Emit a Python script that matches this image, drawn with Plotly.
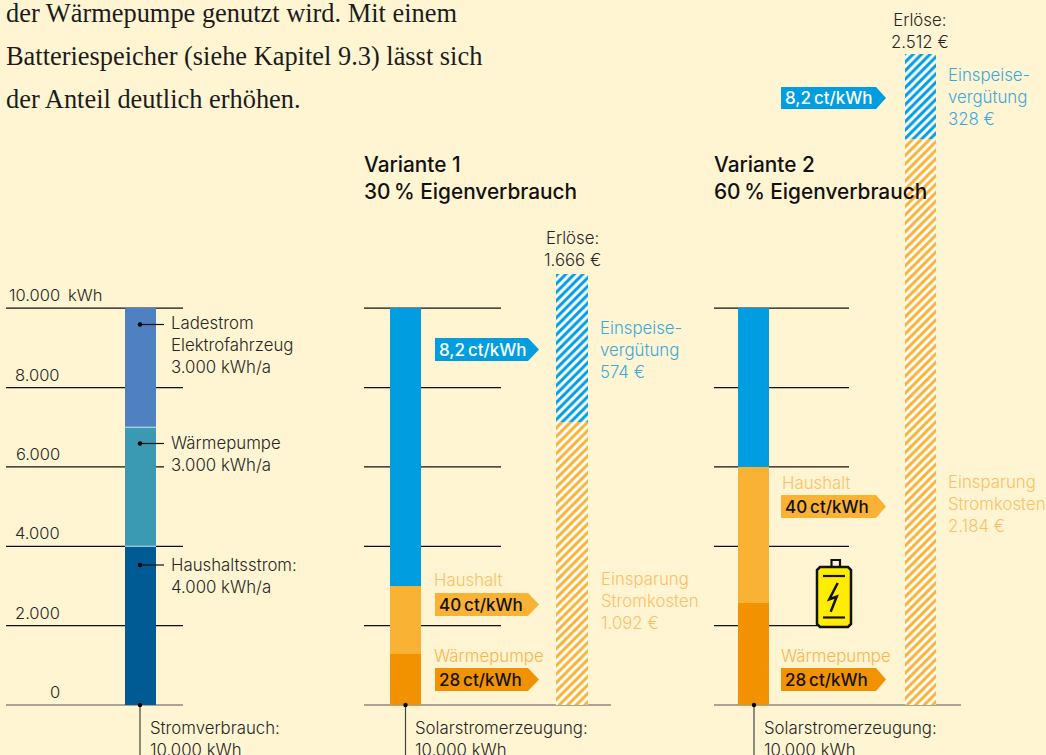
import plotly.graph_objects as go

# ---------- data ----------
tick_values = [0, 2000, 4000, 6000, 8000, 10000]
tick_labels = ["0", "2.000", "4.000", "6.000", "8.000", "10.000"]

consumption_names = ["Haushaltsstrom", "Wärmepumpe", "Ladestrom Elektrofahrzeug"]
consumption_kwh = [4000, 3000, 3000]

v1_names = ["Wärmepumpe", "Haushalt", "Einspeisung"]
v1_kwh = [1290, 1710, 7000]
v2_names = ["Wärmepumpe", "Haushalt", "Einspeisung"]
v2_kwh = [2570, 3430, 4000]

revenue_names = ["Einsparung Stromkosten", "Einspeisevergütung"]
v1_revenue = [1092, 574]
v2_revenue = [2184, 328]

# ---------- layout constants ----------
W, H = 1046, 755
ZERO_PX = 705.0
PX_PER_KWH = 0.03968
PX_PER_EUR = 0.2590
BG = "#FFF5D2"
INK = "#262626"
LINE = "#111111"
BLUE = "#009EE0"
ORANGE_L = "#F9B233"
ORANGE_D = "#F39200"
TXT_BLUE = "#3BA8DE"
TXT_ORANGE = "#FBC066"
TXT_ORANGE2 = "#F9B44A"
SANS = "Inter"
SERIF = "Liberation Serif"
THIN = "\u2009"
BODY = 16.8


def py(p):
    return 1 - p / H


fig = go.Figure()


def stack(name_list, values, xc, width, colors):
    base = 0
    for n, v, c in zip(name_list, values, colors):
        fig.add_trace(go.Bar(x=[xc], y=[v], base=[base], width=[width], name=n,
                             marker=dict(color=c, line=dict(width=0)), yaxis="y"))
        base += v


def hatch(values, xc, width):
    base = 0
    for n, v, c in zip(revenue_names, values, [ORANGE_L, BLUE]):
        fig.add_trace(go.Bar(x=[xc], y=[v], base=[base], width=[width], name=n, yaxis="y2",
                             marker=dict(color="#FFFFFF", line=dict(width=0),
                                         pattern=dict(shape="/", size=6, solidity=0.5,
                                                      fgcolor=c, bgcolor="#FFFFFF",
                                                      fillmode="replace"))))
        base += v


stack(consumption_names, consumption_kwh, 140.5, 31, ["#005B94", "#3A9AB4", "#4F81C2"])
stack(v1_names, v1_kwh, 405.5, 31, [ORANGE_D, ORANGE_L, BLUE])
stack(v2_names, v2_kwh, 753.5, 31, [ORANGE_D, ORANGE_L, BLUE])
hatch(v1_revenue, 572, 32)
hatch(v2_revenue, 920.5, 31)

shapes = []
annotations = []

# gridlines (drawn beneath the bars, y from the kWh scale)
for v in tick_values:
    col = "#555555" if v == 0 else LINE
    x1a = 164 if v == 6000 else 183
    x1b = 611 if v == 0 else 501
    x1c = 961 if v == 0 else (820 if v == 2000 else 849)
    for x0, x1 in [(6, x1a), (364, x1b), (714, x1c)]:
        shapes.append(dict(type="line", layer="below", xref="x", yref="y", x0=x0, x1=x1, y0=v, y1=v,
                           line=dict(color=col, width=1.2)))

# thin light seams between the stacked consumption segments
seam = 0
for v in consumption_kwh[:-1]:
    seam += v
    shapes.append(dict(type="line", layer="above", xref="x", yref="y", x0=125, x1=156, y0=seam, y1=seam,
                       line=dict(color="#CFE4EA", width=1)))

# tick labels
for v, t in zip(tick_values, tick_labels):
    annotations.append(dict(x=62, y=v, xref="x", yref="y", text=t, xanchor="right", yanchor="bottom",
                            yshift=1, showarrow=False, font=dict(family=SANS, size=16.5, color=INK, weight=300)))
annotations.append(dict(x=66, y=10000, xref="x", yref="y", text="kWh", xanchor="left", yanchor="bottom",
                        yshift=1, showarrow=False, font=dict(family=SANS, size=16.5, color=INK, weight=300)))


def label(x, y, text, color=INK, size=BODY, anchor="left", weight=300, family=SANS):
    annotations.append(dict(x=x - 2 if anchor == "left" else x, y=py(y), xref="x", yref="paper", text=text,
                            xanchor=anchor, yanchor="middle", align=anchor, showarrow=False,
                            font=dict(family=family, size=size, color=color, weight=weight)))


label(171, 345.5, "Ladestrom<br>Elektrofahrzeug<br>3.000 kWh/a")
label(171, 453.5, "Wärmepumpe<br>3.000 kWh/a")
label(171, 575.5, "Haushaltsstrom:<br>4.000 kWh/a")
label(150, 738.5, "Stromverbrauch:<br>10.000 kWh")
label(415, 738.5, "Solarstromerzeugung:<br>10.000 kWh")
label(764, 738.5, "Solarstromerzeugung:<br>10.000 kWh")

label(364, 178, f"Variante 1<br>30{THIN}% Eigenverbrauch", color="#111111", size=20.8, weight=500)
label(714, 178, f"Variante 2<br>60{THIN}% Eigenverbrauch", color="#111111", size=20.8, weight=500)

label(572.5, 248.5, "Erlöse:<br>1.666 €", anchor="center")
label(920, 31, "Erlöse:<br>2.512 €", anchor="center")

label(600, 349.5, "Einspeise-<br>vergütung<br>574 €", color=TXT_BLUE)
label(948, 96.5, "Einspeise-<br>vergütung<br>328 €", color=TXT_BLUE)
label(601, 601, "Einsparung<br>Stromkosten<br>1.092 €", color=TXT_ORANGE)
label(948, 503.5, "Einsparung<br>Stromkosten<br>2.184 €", color=TXT_ORANGE)

label(434, 580, "Haushalt", color=TXT_ORANGE)
label(434, 656, "Wärmepumpe", color=TXT_ORANGE2)
label(782, 483, "Haushalt", color=TXT_ORANGE)
label(781, 656, "Wärmepumpe", color=TXT_ORANGE2)

for i, line in enumerate(["der Wärmepumpe genutzt wird. Mit einem",
                          "Batteriespeicher (siehe Kapitel 9.3) lässt sich",
                          "der Anteil deutlich erhöhen."]):
    label(6, 13 + 43 * i, line, color="#1c1c1c", size=26.4, weight=400, family=SERIF)


# rate tags
def tag(x0, x1, tip, y0, y1, color, text, tcolor):
    ym = (y0 + y1) / 2
    path = f"M{x0},{py(y0)} L{x1},{py(y0)} L{tip},{py(ym)} L{x1},{py(y1)} L{x0},{py(y1)} Z"
    shapes.append(dict(type="path", xref="x", yref="paper", path=path, fillcolor=color, line=dict(width=0), layer="above"))
    label(x0 + 4, ym, text, color=tcolor, size=17, weight=500)


tag(435, 528, 539, 338, 361, BLUE, f"8,2{THIN}ct/kWh", "#FFFFFF")
tag(435, 528, 539, 593, 616, ORANGE_L, f"40{THIN}ct/kWh", "#111111")
tag(435, 528, 539, 668, 691, ORANGE_D, f"28{THIN}ct/kWh", "#111111")
tag(781, 876, 886, 87, 109, BLUE, f"8,2{THIN}ct/kWh", "#FFFFFF")
tag(781, 876, 886, 495, 518, ORANGE_L, f"40{THIN}ct/kWh", "#111111")
tag(781, 876, 886, 668, 691, ORANGE_D, f"28{THIN}ct/kWh", "#111111")


# pointer lines and dots
def seg(x0, y0, x1, y1, color=LINE, width=1.2):
    shapes.append(dict(type="line", xref="x", yref="paper", x0=x0, x1=x1, y0=py(y0), y1=py(y1),
                       line=dict(color=color, width=width), layer="above"))


def dot(x, y, r=2.2):
    shapes.append(dict(type="circle", xref="x", yref="paper", x0=x - r, x1=x + r, y0=py(y - r), y1=py(y + r),
                       fillcolor="#000000", line=dict(width=0), layer="above"))


for y in [324.5, 443.5, 565]:
    seg(140, y, 164, y)
    dot(140, y)
for x in [140, 405.5, 754]:
    seg(x, 705, x, 755, color="#444444")
    dot(x, 705)


# battery icon
def path(points, close=False):
    s = "M" + " L".join(f"{x},{py(y)}" for x, y in points)
    return s + (" Z" if close else "")


def stroke(points, color="#111111", width=2.2, fill=None, close=False):
    d = dict(type="path", xref="x", yref="paper", path=path(points, close), line=dict(color=color, width=width), layer="above")
    if fill:
        d["fillcolor"] = fill
    shapes.append(d)


stroke([(820, 567), (848, 567), (851, 570), (851, 624), (848, 627), (820, 627), (817, 624), (817, 570)],
       fill="#FFED00", close=True, width=2.5)
stroke([(831.5, 566), (831.5, 560), (840, 560), (840, 566)])
stroke([(823, 576), (845, 576)])
stroke([(823, 617.5), (845, 617.5)])
stroke([(837.7, 583), (829.3, 599.3), (836.7, 596.7), (830.7, 611.7)], width=2.5)

fig.update_layout(
    width=W, height=H, margin=dict(l=0, r=0, t=0, b=0), autosize=False,
    paper_bgcolor=BG, plot_bgcolor=BG, showlegend=False, barmode="overlay", bargap=0,
    xaxis=dict(range=[0, W], visible=False, fixedrange=True),
    yaxis=dict(range=[(ZERO_PX - H) / PX_PER_KWH, ZERO_PX / PX_PER_KWH], visible=False, fixedrange=True),
    yaxis2=dict(range=[(ZERO_PX - H) / PX_PER_EUR, ZERO_PX / PX_PER_EUR], visible=False, fixedrange=True,
                overlaying="y"),
    shapes=shapes, annotations=annotations,
)

fig.write_html("out.html", config=dict(displayModeBar=False),
               post_script="document.body.style.margin='0';document.body.style.overflow='hidden';")
